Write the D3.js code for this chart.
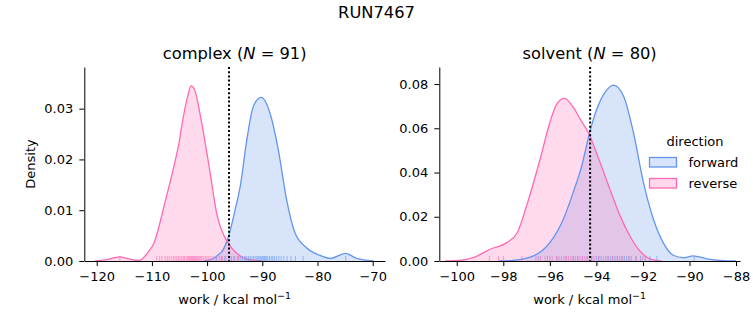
<!DOCTYPE html>
<html>
<head>
<meta charset="utf-8">
<script src="https://cdn.jsdelivr.net/npm/d3@7"></script>
<style>
  html, body { margin: 0; padding: 0; background: #fff; }
  svg { display: block; }
  text { font-family: "DejaVu Sans", sans-serif; fill: #000; }
</style>
</head>
<body>
<svg id="chart" width="753" height="325"></svg>
<script>
// ---------------- DATA ----------------
const suptitle = "RUN7467";
const panelNames = ["complex", "solvent"];
const panelN = [91, 80];
const seriesNames = ["forward", "reverse"];
const seriesColors = ["#6495ED", "#FF69B4"];

// KDE curves: work (kcal/mol) and density
const complexForwardWork    = [-100.5, -99.3, -98.0, -97.1, -95.85, -94.9, -94.0, -92.8, -91.6, -90.2, -88.6, -87.1, -85.6, -84.1, -82.0, -79.55, -77.7, -74.9, -72.9, -70.8, -69.8];
const complexForwardDensity = [0.0, 0.0003, 0.0012, 0.0022, 0.0059, 0.0102, 0.0147, 0.0239, 0.0305, 0.0322, 0.0291, 0.0219, 0.0121, 0.0056, 0.0026, 0.0011, 0.0005, 0.0015, 0.0005, 0.0001, 0.0];
const complexReverseWork    = [-120.3, -118.5, -117.3, -115.8, -114.2, -112.3, -110.8, -109.6, -107.8, -106.9, -106.0, -105.1, -104.5, -103.5, -102.9, -102.2, -101.2, -99.65, -98.15, -96.9, -95.85, -94.0, -92.0, -90.0];
const complexReverseDensity = [0.0, 0.0002, 0.0005, 0.0008, 0.0004, 0.0001, 0.0016, 0.0036, 0.0108, 0.0147, 0.0187, 0.0232, 0.0272, 0.0325, 0.0345, 0.0335, 0.0285, 0.0187, 0.0088, 0.0049, 0.0030, 0.0010, 0.0002, 0.0];
const solventForwardWork    = [-98.2, -97.57, -96.7, -96.0, -95.42, -95.0, -94.63, -94.3, -93.98, -93.63, -93.27, -92.84, -92.41, -91.98, -91.55, -91.13, -90.7, -90.27, -89.84, -89.26, -88.4, -88.0];
const solventForwardDensity = [0.0, 0.0003, 0.0023, 0.0083, 0.0189, 0.0309, 0.0430, 0.0577, 0.0687, 0.0762, 0.0795, 0.0747, 0.0581, 0.0355, 0.0189, 0.0083, 0.0026, 0.0015, 0.0023, 0.0010, 0.0001, 0.0];
const solventReverseWork    = [-100.5, -99.8, -99.3, -98.57, -97.85, -97.4, -97.0, -96.42, -96.0, -95.7, -95.38, -94.99, -94.7, -94.35, -93.84, -93.42, -92.98, -92.56, -92.13, -91.7, -91.2];
const solventReverseDensity = [0.0, 0.0004, 0.0015, 0.0053, 0.0083, 0.0128, 0.0249, 0.0460, 0.0626, 0.0710, 0.0735, 0.0694, 0.0642, 0.0581, 0.0445, 0.0325, 0.0204, 0.0113, 0.0045, 0.0010, 0.0];

// Rug samples (work values)
const complexForwardRug = [-98.3, -97.4, -96.8, -96.1, -95.6, -95.0, -94.5, -94.0, -93.6, -93.2, -92.8, -92.5, -92.2, -91.9, -91.6, -91.3, -91.0, -90.8, -90.6, -90.4, -90.2, -90.0, -89.8, -89.6, -89.4, -89.2, -89.0, -88.7, -88.4, -88.1, -87.8, -87.4, -87.0, -86.6, -86.1, -85.5, -84.8, -84.0, -82.6, -74.9];
const complexReverseRug = [-115.8, -109.1, -108.6, -108.2, -107.6, -107.2, -106.9, -106.5, -106.1, -105.8, -105.5, -105.2, -104.9, -104.6, -104.3, -104.1, -103.8, -103.6, -103.4, -103.2, -103.0, -102.8, -102.6, -102.5, -102.3, -102.1, -101.9, -101.7, -101.5, -101.3, -101.1, -100.9, -100.6, -100.3, -100.0, -99.7, -99.3, -98.9, -98.4, -97.8, -97.2, -96.6, -95.9, -95.2, -94.3, -93.1];
const solventForwardRug = [-96.5, -96.1, -95.7, -95.3, -95.0, -94.8, -94.6, -94.4, -94.2, -94.0, -93.9, -93.8, -93.6, -93.5, -93.4, -93.3, -93.2, -93.1, -93.0, -92.9, -92.8, -92.7, -92.6, -92.5, -92.3, -92.1, -91.9, -91.7, -91.4, -89.8];
const solventReverseRug = [-98.6, -98.2, -98.0, -97.2, -96.6, -96.4, -96.2, -96.0, -95.9, -95.7, -95.6, -95.5, -95.4, -95.3, -95.2, -95.1, -95.0, -94.9, -94.8, -94.7, -94.6, -94.5, -94.4, -94.3, -94.2, -94.1, -93.9, -93.7, -93.5, -93.3, -93.1, -92.9, -92.6, -92.3, -92.0];

// Vertical reference (dotted) lines
const refLines = [-96.03, -94.27];

// Axis ticks
const complexXTicks = [-120, -110, -100, -90, -80, -70];
const complexYTicks = [0, 0.01, 0.02, 0.03];
const solventXTicks = [-100, -98, -96, -94, -92, -90, -88];
const solventYTicks = [0, 0.02, 0.04, 0.06, 0.08];

const xDomains = [[-122.25, -67.77], [-100.75, -87.83]];
const yDomains = [[0, 0.0382], [0, 0.0877]];

// ---------------- DRAW ----------------
const svg = d3.select("#chart");
const FS = 13;

svg.append("text").attr("x", 376.5).attr("y", 18).attr("text-anchor", "middle")
  .style("font-size", "16.3px").text(suptitle);

const panels = [
  { left: 84.3, right: 385, top: 67, bottom: 261,
    curves: [[complexForwardWork, complexForwardDensity], [complexReverseWork, complexReverseDensity]],
    rugs: [complexForwardRug, complexReverseRug],
    xt: complexXTicks, yt: complexYTicks, yfmt: ".2f" },
  { left: 439.3, right: 740, top: 67, bottom: 261,
    curves: [[solventForwardWork, solventForwardDensity], [solventReverseWork, solventReverseDensity]],
    rugs: [solventForwardRug, solventReverseRug],
    xt: solventXTicks, yt: solventYTicks, yfmt: ".2f" }
];

panels.forEach((p, i) => {
  const x = d3.scaleLinear().domain(xDomains[i]).range([p.left, p.right]);
  const y = d3.scaleLinear().domain(yDomains[i]).range([p.bottom, p.top]);
  const g = svg.append("g");

  // fills
  p.curves.forEach((c, s) => {
    const pts = c[0].map((w, k) => [w, c[1][k]]);
    const area = d3.area().x(d => x(d[0])).y0(y(0)).y1(d => y(d[1])).curve(d3.curveMonotoneX);
    g.append("path").attr("d", area(pts)).attr("fill", seriesColors[s]).attr("fill-opacity", 0.25).attr("stroke", "none");
  });
  // lines
  p.curves.forEach((c, s) => {
    const pts = c[0].map((w, k) => [w, c[1][k]]);
    const line = d3.line().x(d => x(d[0])).y(d => y(d[1])).curve(d3.curveMonotoneX);
    g.append("path").attr("d", line(pts)).attr("fill", "none").attr("stroke", seriesColors[s]).attr("stroke-width", 1.3);
  });
  // rugs
  p.rugs.forEach((r, s) => {
    g.selectAll(null).data(r).enter().append("line")
      .attr("x1", d => x(d)).attr("x2", d => x(d))
      .attr("y1", p.bottom).attr("y2", p.bottom - 5)
      .attr("stroke", seriesColors[s]).attr("stroke-opacity", 0.6).attr("stroke-width", 1);
  });
  // reference line
  g.append("line").attr("x1", x(refLines[i])).attr("x2", x(refLines[i]))
    .attr("y1", p.top).attr("y2", p.bottom)
    .attr("stroke", "#000").attr("stroke-width", 2).attr("stroke-dasharray", "2,2.2");

  // axes
  const xa = g.append("g").attr("transform", `translate(0,${p.bottom})`)
    .call(d3.axisBottom(x).tickValues(p.xt).tickFormat(d3.format("d")).tickSize(5).tickSizeOuter(0).tickPadding(5.5));
  const ya = g.append("g").attr("transform", `translate(${p.left},0)`)
    .call(d3.axisLeft(y).tickValues(p.yt).tickFormat(d3.format(p.yfmt)).tickSize(5).tickSizeOuter(0).tickPadding(6));
  [xa, ya].forEach(a => {
    a.attr("font-family", null).attr("font-size", null);
    a.selectAll("text").style("font-size", FS + "px").attr("fill", "#000");
    a.selectAll("line").attr("stroke", "#000").attr("stroke-width", 1);
    a.select(".domain").attr("stroke", "#000").attr("stroke-width", 1);
  });

  // title
  const t = svg.append("text").attr("x", (p.left + p.right) / 2).attr("y", 59)
    .attr("text-anchor", "middle").style("font-size", "16.3px");
  t.append("tspan").text(panelNames[i] + " (");
  t.append("tspan").style("font-style", "italic").text("N");
  t.append("tspan").text(" = " + panelN[i] + ")");

  // x label
  const xl = svg.append("text").attr("x", (p.left + p.right) / 2).attr("y", 304)
    .attr("text-anchor", "middle").style("font-size", FS + "px");
  xl.append("tspan").text("work / kcal mol");
  xl.append("tspan").attr("dy", -5).style("font-size", "9.5px").text("\u22121");
});

// y label
svg.append("text").attr("transform", "translate(35,164) rotate(-90)")
  .attr("text-anchor", "middle").style("font-size", FS + "px").text("Density");

// legend
const lg = svg.append("g");
lg.append("text").attr("x", 695).attr("y", 146).attr("text-anchor", "middle")
  .style("font-size", FS + "px").text("direction");
seriesNames.forEach((n, s) => {
  const yy = 157.5 + s * 21;
  lg.append("rect").attr("x", 649.5).attr("y", yy).attr("width", 27).attr("height", 9.5)
    .attr("fill", seriesColors[s]).attr("fill-opacity", 0.25)
    .attr("stroke", seriesColors[s]).attr("stroke-width", 1.3);
  lg.append("text").attr("x", 688.5).attr("y", yy + 9).style("font-size", FS + "px").text(n);
});
</script>
</body>
</html>
